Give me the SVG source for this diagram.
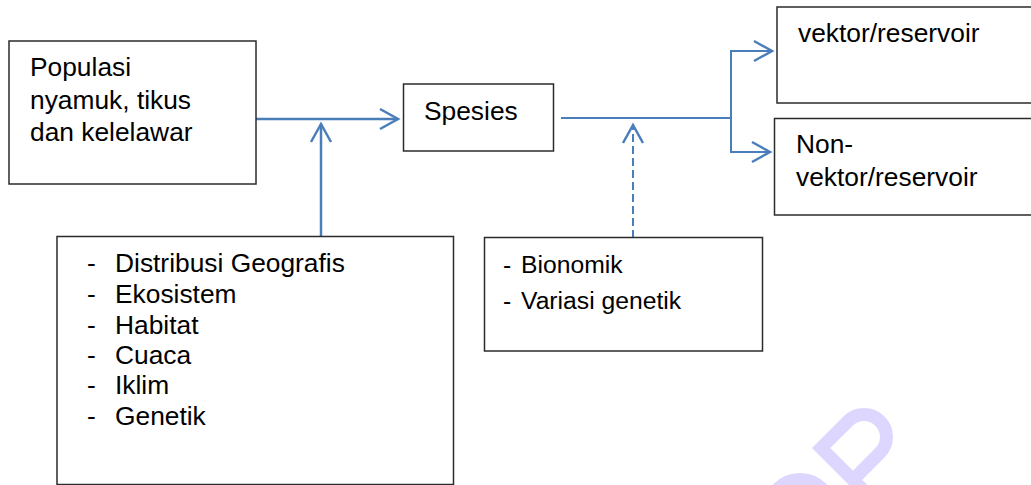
<svg xmlns="http://www.w3.org/2000/svg" width="1031" height="485" viewBox="0 0 1031 485">
<style>
.box{fill:#fff;stroke:#2b2b2b;stroke-width:1.5}
.t{font-family:"Liberation Sans",Arial,sans-serif;font-size:26.35px;fill:#000}
.t2{font-family:"Liberation Sans",Arial,sans-serif;font-size:24.7px;fill:#000}
.c{fill:none;stroke:#4a7ebb;stroke-width:2.5}
.c2{fill:none;stroke:#4a7ebb;stroke-width:2}
.dash{stroke-dasharray:8 4}
.wm{fill:none;stroke:#ddd6fe;stroke-width:13}
</style>
<defs>
<marker id="ah" markerUnits="userSpaceOnUse" viewBox="0 0 20 22" refX="19" refY="11" markerWidth="20" markerHeight="22" orient="auto" overflow="visible">
<path d="M1,1 L19,11 L1,21" fill="none" stroke="#4a7ebb" stroke-width="2.5" stroke-linejoin="miter"/>
</marker>
</defs>
<rect width="1031" height="485" fill="#fff"/>
<g id="watermark">
<path class="wm" transform="translate(812,448) rotate(-45)" d="M6.5,90 L6.5,6.5 L44.5,6.5 A22.5,22.5 0 0 1 44.5,51.5 L6.5,51.5"/>
<circle class="wm" cx="800" cy="510" r="30.5"/>
</g>
<g id="connectors">
<path class="c" d="M256,119 H398" marker-end="url(#ah)"/>
<path class="c" d="M321,237 V124" marker-end="url(#ah)"/>
<path class="c2" d="M561,118 H731"/>
<path class="c2" d="M731,118 V51 H772" marker-end="url(#ah)"/>
<path class="c2" d="M731,118 V152 H770" marker-end="url(#ah)"/>
<path class="c2 dash" d="M633,238 V125" marker-end="url(#ah)"/>
</g>
<g id="populasi">
<rect class="box" x="9" y="41" width="247" height="143"/>
<text class="t" x="30" y="76">Populasi</text>
<text class="t" x="30" y="108.5">nyamuk, tikus</text>
<text class="t" x="30" y="141">dan kelelawar</text>
</g>
<g id="spesies">
<rect class="box" x="403.5" y="84" width="150" height="67"/>
<text class="t" x="424" y="120">Spesies</text>
</g>
<g id="vektor">
<rect class="box" x="777" y="7" width="270" height="96"/>
<text class="t" x="798" y="42">vektor/reservoir</text>
</g>
<g id="nonvektor">
<rect class="box" x="774.5" y="118.5" width="270" height="96.5"/>
<text class="t" x="796" y="153">Non-</text>
<text class="t" x="796" y="186">vektor/reservoir</text>
</g>
<g id="faktor">
<rect class="box" x="57" y="236.5" width="396.5" height="248"/>
<text class="t" x="87" y="272">-</text><text class="t" x="115" y="272">Distribusi Geografis</text>
<text class="t" x="87" y="303">-</text><text class="t" x="115" y="303">Ekosistem</text>
<text class="t" x="87" y="334">-</text><text class="t" x="115" y="334">Habitat</text>
<text class="t" x="87" y="364">-</text><text class="t" x="115" y="364">Cuaca</text>
<text class="t" x="87" y="394">-</text><text class="t" x="115" y="394">Iklim</text>
<text class="t" x="87" y="425">-</text><text class="t" x="115" y="425">Genetik</text>
</g>
<g id="bionomik">
<rect class="box" x="484.5" y="237.5" width="278" height="113.5"/>
<text class="t2" x="503" y="273">-</text><text class="t2" x="521" y="273">Bionomik</text>
<text class="t2" x="503" y="309">-</text><text class="t2" x="521" y="309">Variasi genetik</text>
</g>
</svg>
